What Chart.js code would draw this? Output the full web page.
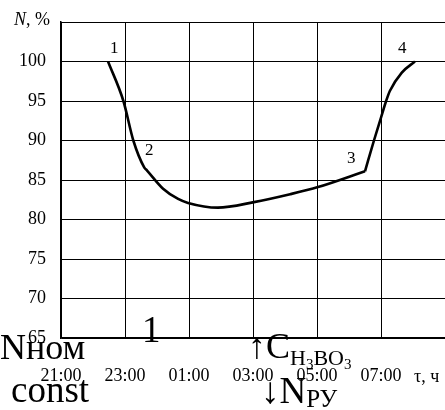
<!DOCTYPE html>
<html>
<head>
<meta charset="utf-8">
<script src="https://cdn.jsdelivr.net/npm/chart.js@4"></script>
<style>
  body { margin: 0; background: #fff; }
  #wrap { position: relative; width: 445px; height: 410px; overflow: hidden; }
  #wrap canvas { position: absolute; left: 0; top: 0; }
  .t { position: absolute; font-family: "Liberation Serif", "Times New Roman", serif; color: #000; line-height: 1; white-space: nowrap; }
  .t sub { font-size: inherit; vertical-align: baseline; position: relative; }
</style>
</head>
<body>
<div id="wrap">
  <canvas id="chart" width="445" height="410"></canvas>

  <div class="t" style="left:14px; top:10px; font-size:18px;"><i>N</i>, %</div>

  <div class="t" style="left:110px; top:39px; font-size:17px;">1</div>
  <div class="t" style="left:145px; top:141px; font-size:17px;">2</div>
  <div class="t" style="left:347px; top:149px; font-size:17px;">3</div>
  <div class="t" style="left:398px; top:39px; font-size:17px;">4</div>

  <div class="t" style="left:414px; top:367px; font-size:18px;">τ, ч</div>

  <div class="t" style="left:0px; top:329px; font-size:36px;">Nном</div>
  <div class="t" style="left:11px; top:371px; font-size:37px;">const</div>
  <div class="t" style="left:142px; top:311px; font-size:37px;">1</div>

  <div class="t" style="left:248px; top:328px; font-size:36px;">↑C<sub style="font-size:22px; top:7px;">H<sub style="font-size:15px; top:4px;">3</sub>BO<sub style="font-size:15px; top:4px;">3</sub></sub></div>
  <div class="t" style="left:261px; top:372px; font-size:37px;">↓N<sub style="font-size:25px; top:4px;">РУ</sub></div>
</div>

<script>
// hours counted from 21:00, N in % of nominal
let hours = [1.47, 1.95, 2.26, 2.6, 2.69, 3.19, 3.66, 3.97, 4.9, 6.03, 7.16, 8.03, 9.5,
             9.78, 10.0, 10.16, 10.28, 10.65, 11.06];
let power = [100, 95, 90, 86.6, 86.2, 83.9, 82.6, 82.1, 81.5, 82.2, 83.2, 84.1, 86.1,
             90, 92.9, 95, 96.3, 98.6, 100];
let kinkIndex = 12; // point 3, sharp bend

let xTickLabels = ['21:00', '23:00', '01:00', '03:00', '05:00', '07:00', ''];
let yMin = 65, yMax = 105, yStep = 5;

function toPoints(from, to) {
    let pts = [];
    for (let i = from; i <= to; i++) pts.push({ x: hours[i], y: power[i] });
    return pts;
}

let lineStyle = {
    borderColor: '#000',
    borderWidth: 2.6,
    pointRadius: 0,
    fill: false,
    cubicInterpolationMode: 'monotone'
};

let serif = '"Liberation Serif", "Times New Roman", serif';

new Chart(document.getElementById('chart').getContext('2d'), {
    type: 'line',
    data: {
        datasets: [
            Object.assign({ data: toPoints(0, kinkIndex) }, lineStyle),
            Object.assign({ data: toPoints(kinkIndex, hours.length - 1) }, lineStyle)
        ]
    },
    options: {
        responsive: false,
        animation: false,
        layout: { padding: { top: 22, left: 0, right: 0, bottom: 0 } },
        plugins: { legend: { display: false }, tooltip: { enabled: false } },
        scales: {
            x: {
                type: 'linear',
                min: 0,
                max: 12,
                afterFit: (scale) => {
                    scale.height = 72;
                    scale.paddingLeft = 0;
                    scale.paddingRight = 0;
                },
                grid: { color: '#000', lineWidth: 1, drawTicks: false },
                border: { color: '#000', width: 1.5 },
                ticks: {
                    stepSize: 2,
                    padding: 27,
                    maxRotation: 0,
                    color: '#000',
                    font: { family: serif, size: 18 },
                    callback: (v) => xTickLabels[v / 2]
                }
            },
            y: {
                min: yMin,
                max: yMax,
                afterFit: (scale) => {
                    scale.width = 61;
                    scale.paddingTop = 0;
                    scale.paddingBottom = 0;
                },
                grid: { color: '#000', lineWidth: 1, drawTicks: false },
                border: { color: '#000', width: 1.5 },
                ticks: {
                    stepSize: yStep,
                    padding: 15,
                    color: '#000',
                    font: { family: serif, size: 18 },
                    callback: (v) => v === yMax ? '' : v
                }
            }
        }
    }
});
</script>
</body>
</html>
